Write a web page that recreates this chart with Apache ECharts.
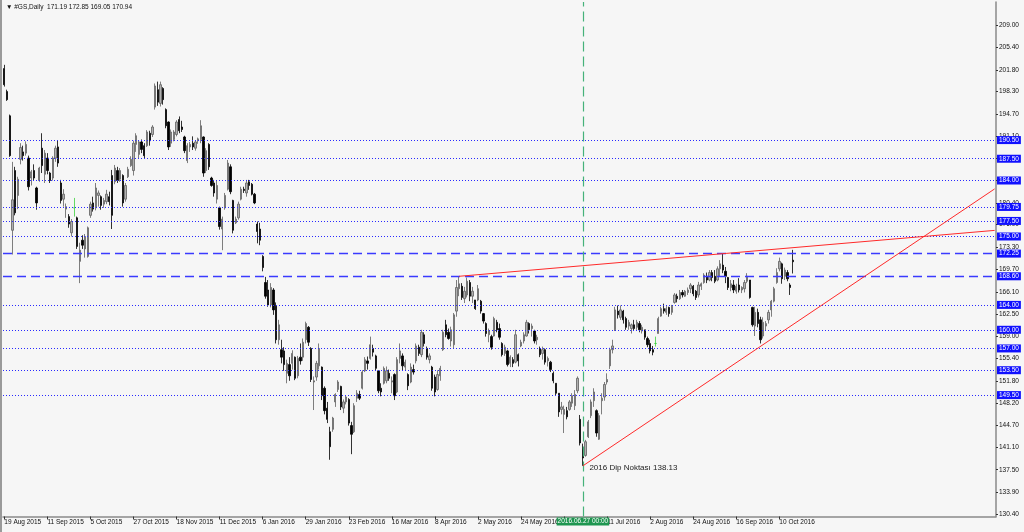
<!DOCTYPE html>
<html>
<head>
<meta charset="utf-8">
<script src="https://cdn.jsdelivr.net/npm/echarts@6/dist/echarts.min.js"></script>
<style>
html,body{margin:0;padding:0;background:#f6f6f6;}
#c{width:1024px;height:532px;}
</style>
</head>
<body>
<div id="c"></div>
<script>
// ---------------- data ----------------
const firstDay = '2015-08-19';
const lastDay = '2016-10-17';
const holidays = ['2015-09-07','2015-11-26','2015-12-25','2016-01-01','2016-01-18','2016-02-15','2016-03-25','2016-05-30','2016-07-04','2016-09-05'];

// daily bars: [open, high, low, close]
const ohlc = [
[202.0,202.6,199.1,199.4],[198.3,198.6,196.8,197.0],[194.4,194.6,187.8,188.0],[176.0,187.0,172.1,180.9],[185.6,186.2,178.4,178.8],[181.6,184.6,179.4,184.2],[187.4,190.0,186.6,189.3],[188.6,189.6,187.2,188.0],[188.4,190.3,188.0,189.8],[187.6,188.0,182.4,183.0],
[184.4,185.7,183.2,185.4],[185.6,186.6,184.0,184.4],[182.8,183.0,179.3,180.4],[184.0,186.2,183.8,186.0],[189.2,191.6,185.2,186.4],[185.0,188.9,183.6,188.4],[187.6,188.4,185.0,185.6],[185.2,185.4,183.6,184.0],[184.4,187.9,184.0,187.6],[187.6,189.6,187.0,189.2],
[189.4,190.5,186.2,186.8],[183.6,184.1,180.3,180.8],[181.0,182.6,179.8,181.8],[179.4,180.3,178.0,179.8],[178.2,178.6,176.4,177.0],[175.6,177.8,175.0,177.4],[179.6,181.2,178.2,179.6],[178.0,178.2,173.0,173.4],[171.0,174.0,167.5,172.8],[174.4,175.2,173.0,173.6],
[173.0,175.4,171.6,175.0],[171.8,176.6,171.6,176.4],[178.4,180.6,178.0,180.2],[180.4,181.4,179.0,179.4],[179.6,183.6,179.2,182.8],[181.6,182.4,179.8,182.0],[181.4,181.6,179.3,180.0],[180.2,181.2,179.6,180.8],[180.6,182.5,180.2,181.8],[181.4,182.2,180.0,180.6],
[184.8,185.7,176.2,178.4],[183.8,186.5,183.4,186.0],[185.6,186.2,183.6,184.0],[184.2,186.0,183.8,185.6],[184.8,185.0,179.8,180.4],[181.0,183.6,180.6,183.2],[184.6,186.2,184.4,185.8],[186.4,187.9,186.2,187.4],[185.6,190.4,184.8,190.0],[189.8,191.6,188.6,191.2],
[188.2,190.5,187.6,190.2],[190.2,190.6,188.4,189.0],[189.6,190.0,187.6,188.0],[189.6,192.1,189.4,191.8],[191.6,192.0,189.6,190.4],[191.4,192.9,191.0,192.6],[195.8,199.6,195.4,199.2],[198.6,199.9,196.0,196.6],[196.4,199.9,195.9,199.4],[198.8,199.0,196.2,197.0],
[195.4,195.6,192.4,192.8],[193.4,193.5,188.9,189.4],[190.0,192.2,189.4,191.8],[190.6,192.1,190.3,191.8],[191.4,193.7,191.1,193.4],[193.8,194.3,191.6,192.0],[192.6,193.6,191.8,192.2],[191.0,191.2,188.4,188.8],[187.2,190.0,186.8,189.6],[189.4,190.2,188.6,189.8],
[190.0,191.1,188.9,189.4],[189.2,190.4,188.8,190.2],[190.4,190.9,189.9,190.7],[190.6,193.7,190.0,192.8],[191.0,191.1,184.6,185.2],[185.6,189.2,185.2,188.8],[189.8,190.0,185.7,186.2],[184.4,184.6,183.0,183.2],[183.6,184.1,181.4,182.0],[181.0,184.0,180.3,183.2],
[179.6,179.8,176.1,176.6],[176.2,178.2,172.8,177.8],[179.6,182.0,179.3,181.6],[182.6,187.3,182.4,186.8],[186.2,186.6,181.8,182.2],[180.8,180.9,175.5,176.0],[177.2,178.2,177.0,177.8],[178.0,180.6,177.7,180.2],[181.0,183.0,180.8,182.6],[182.6,183.0,182.0,182.4],
[182.0,184.1,181.4,183.6],[183.8,184.1,182.5,183.2],[183.4,183.6,181.6,181.8],[181.8,182.0,180.2,180.4],[177.0,177.4,173.9,175.8],[176.2,177.2,173.6,174.4],[171.8,172.0,169.4,170.0],[167.6,168.5,165.0,165.4],[166.4,168.0,163.7,164.0],[164.0,167.5,163.6,166.8],
[166.4,166.7,162.4,163.2],[163.8,164.4,157.8,158.4],[158.4,161.6,157.6,160.8],[156.8,158.4,154.6,155.6],[156.6,157.2,153.4,154.4],[153.0,155.2,151.4,154.6],[154.4,155.6,151.8,152.6],[154.6,156.7,153.6,156.2],[155.6,155.7,151.9,152.2],[152.6,155.8,152.2,155.4],
[155.6,157.8,154.4,155.0],[155.6,158.6,155.0,158.0],[158.4,161.3,157.8,161.0],[160.4,160.6,157.4,158.0],[157.0,157.2,151.6,152.0],[151.6,152.5,147.1,151.8],[152.4,155.0,151.8,154.6],[154.2,157.8,153.6,157.0],[154.0,154.1,148.7,149.4],[150.6,150.9,146.4,147.0],
[147.4,148.4,145.0,145.6],[143.6,144.4,139.1,141.2],[144.0,146.0,143.6,145.8],[148.4,149.8,147.6,149.6],[150.4,151.9,150.0,151.6],[150.9,151.0,147.1,147.6],[147.4,148.8,146.6,148.4],[148.4,149.4,148.0,149.2],[148.8,149.0,144.6,145.0],[144.6,145.2,140.0,143.2],
[143.6,148.2,143.4,147.8],[149.0,150.3,148.4,149.8],[149.6,150.2,148.7,149.0],[150.6,153.5,150.4,153.2],[153.4,155.6,153.2,155.2],[155.0,155.7,153.6,154.6],[155.4,158.9,155.2,157.6],[157.0,157.6,155.7,156.4],[155.8,156.0,153.4,153.8],[153.4,153.5,149.8,150.2],
[150.6,151.4,149.3,150.0],[151.4,154.1,151.2,153.8],[151.8,154.1,151.4,153.4],[153.0,153.6,151.8,152.2],[151.6,152.5,149.8,151.8],[152.8,153.0,148.7,149.4],[150.0,155.6,149.8,155.2],[155.4,157.8,154.6,156.6],[155.8,156.2,153.5,154.2],[154.0,155.2,153.4,154.8],
[152.8,153.0,150.3,151.0],[151.6,154.6,151.4,154.0],[153.6,154.4,152.8,153.2],[155.0,157.8,154.6,157.4],[157.2,157.6,155.8,156.2],[156.0,160.0,155.6,159.6],[159.2,159.6,157.3,157.8],[157.0,157.3,155.2,155.6],[155.2,156.2,154.6,155.8],[154.0,154.2,150.2,150.6],
[152.4,152.8,149.3,150.0],[150.4,153.5,150.2,152.8],[152.6,154.2,151.8,153.8],[156.8,160.0,156.6,159.6],[160.8,161.6,158.8,159.2],[159.6,160.2,158.4,158.6],[158.2,160.5,157.3,160.0],[157.6,162.7,157.0,162.4],[163.0,168.0,162.1,166.8],[166.6,168.6,165.4,167.4],
[167.0,167.5,164.8,165.2],[165.0,166.9,164.3,166.2],[165.6,168.4,165.2,167.8],[167.6,168.0,164.6,165.4],[165.4,166.9,164.3,166.2],[164.8,164.8,163.2,163.4],[164.8,167.2,164.6,166.6],[164.6,164.8,162.6,163.0],[162.6,162.7,161.0,161.4],[161.0,161.2,158.9,159.4],
[159.2,160.2,158.0,159.8],[158.9,159.2,156.8,157.2],[159.0,162.1,158.9,161.8],[161.2,161.6,159.6,160.0],[160.2,161.0,158.4,158.8],[157.8,158.0,155.7,156.0],[156.2,157.6,155.8,157.2],[156.6,156.8,154.1,154.4],[154.6,155.9,154.0,155.6],[155.2,155.6,154.0,154.6],
[154.8,160.0,154.6,159.2],[156.0,156.2,154.1,155.0],[157.4,158.4,157.2,158.0],[158.2,159.6,157.8,159.2],[159.0,161.6,158.9,161.2],[161.0,161.2,159.4,160.0],[160.2,161.0,158.9,160.6],[159.8,160.0,157.8,158.2],[158.4,159.2,157.6,158.8],[157.0,157.3,155.6,156.0],
[156.2,157.3,155.2,156.8],[156.8,157.0,154.4,154.8],[155.0,155.7,154.1,155.4],[154.8,155.0,153.2,153.6],[153.0,153.3,151.4,151.8],[151.4,151.4,149.5,149.8],[149.8,149.8,146.0,146.8],[147.2,148.4,146.4,147.6],[146.4,147.8,143.4,147.2],[147.0,147.6,145.6,146.0],
[147.2,148.7,147.0,148.4],[148.2,149.8,147.6,149.4],[147.8,150.3,147.1,149.6],[150.2,152.5,149.8,152.2],[145.6,146.3,141.4,141.8],[140.8,141.7,138.13,139.4],[139.8,142.3,139.6,142.0],[142.8,145.5,142.6,145.2],[146.2,148.8,145.8,148.4],[148.6,150.6,147.6,150.0],
[147.0,147.2,142.8,143.4],[142.4,146.6,142.3,146.2],[148.6,149.8,146.4,149.0],[149.2,151.6,148.6,151.2],[151.6,153.0,151.2,152.0],[154.2,157.1,153.7,156.8],[156.8,158.4,156.2,157.4],[160.0,163.7,159.8,163.2],[163.0,163.9,161.8,162.4],[162.0,163.9,161.6,163.2],
[163.0,163.2,161.0,161.6],[161.8,162.1,160.0,160.4],[160.6,161.6,160.0,161.2],[160.2,161.0,159.4,160.8],[160.8,161.6,159.8,160.2],[160.4,161.6,160.0,161.2],[161.0,161.4,159.6,160.0],[159.8,160.8,159.4,160.4],[160.0,160.0,158.4,158.8],[158.6,158.9,157.2,157.6],
[157.8,158.4,156.2,156.6],[156.8,157.4,155.9,156.4],[157.8,158.9,157.3,157.8],[159.4,162.1,159.4,161.8],[162.2,163.7,162.1,163.4],[163.4,164.2,162.6,163.0],[162.8,163.8,162.4,163.4],[163.6,163.7,162.1,162.6],[162.8,164.0,162.4,163.8],[164.4,165.9,164.2,165.6],
[165.4,165.8,164.4,165.0],[165.0,166.4,164.8,166.0],[166.0,166.4,165.2,165.6],[165.4,166.4,165.3,166.2],[166.0,166.8,165.6,166.4],[166.6,167.5,165.9,167.2],[167.0,167.2,165.4,165.8],[166.2,166.4,164.8,165.2],[165.6,167.7,165.2,167.2],[167.0,167.6,166.4,167.4],
[167.6,169.1,167.4,168.8],[168.6,169.2,167.5,168.0],[168.0,169.6,167.8,169.2],[169.2,169.6,167.8,168.4],[168.6,169.6,167.5,167.8],[168.0,170.2,167.8,169.8],[169.8,171.2,168.5,170.6],[170.4,172.3,169.1,169.6],[169.4,170.1,167.5,168.6],[168.4,168.5,166.4,166.8],
[166.8,168.0,166.2,167.4],[167.2,168.0,165.9,166.4],[166.2,167.4,165.8,167.0],[167.2,168.3,166.0,166.4],[166.4,167.0,165.9,166.8],[166.6,168.0,166.0,167.6],[167.8,169.1,167.5,168.6],[168.0,168.0,165.0,165.2],[163.6,163.7,160.5,160.8],[160.6,163.7,159.0,162.8],
[162.8,163.4,160.4,161.0],[161.6,162.1,157.8,158.4],[159.0,162.0,158.6,161.2],[160.6,161.4,159.8,161.0],[161.6,163.2,161.0,162.8],[163.2,164.8,162.1,164.6],[164.6,166.9,164.4,166.6],[167.6,169.9,167.4,169.2],[169.8,171.6,169.4,171.0],[170.6,170.8,167.4,168.2],
[168.6,170.0,168.0,169.6],[169.2,169.6,167.8,168.2],[167.2,167.5,165.6,166.8],[171.19,172.85,169.05,170.94]
];

// bars drawn in the "doji" colour
const greenBars = ['2015-09-25','2016-08-04'];

// right price scale labels
const yTicks = [209.00,205.40,201.80,198.30,194.70,191.10,187.60,184.00,180.40,176.90,173.30,169.70,166.10,162.50,159.00,155.40,151.80,148.20,144.70,141.10,137.50,133.90,130.40];

// horizontal levels
const dottedLevels = [190.50,187.50,184.00,179.75,177.50,175.00,164.00,160.00,157.00,153.50,149.50];
const dashedLevels = [172.25,168.60];
const lastPrice = 170.94;

// vertical marker and dip note
const markDate = '2016-06-27';
const markDateText = '2016.06.27 00:00';
const dipValue = 138.13;
const dipText = '2016 Dip Noktası 138.13';

// trend lines: [barIndex, price] anchor pairs
const trendUpper = [[169, 168.60], [368, 175.98]];
const trendLower = [[215, 138.13], [368, 182.65]];

const headerText = '\u25BC #GS,Daily  171.19 172.85 169.05 170.94';

// ---------------- build ----------------
function tradingDays(a, b) {
  const out = [];
  const DAY = 86400000;
  const t0 = Date.parse(a + 'T00:00:00Z'), t1 = Date.parse(b + 'T00:00:00Z');
  for (let t = t0; t <= t1; t += DAY) {
    const d = new Date(t);
    const wd = d.getUTCDay();
    if (wd === 0 || wd === 6) continue;
    const s = d.toISOString().slice(0, 10);
    if (holidays.indexOf(s) >= 0) continue;
    out.push(s);
  }
  return out;
}
const dates = tradingDays(firstDay, lastDay);
const SLOTS = 369;
const categories = dates.slice();
for (let k = categories.length; k < SLOTS; k++) categories.push('f' + k);

const MON = ['Jan','Feb','Mar','Apr','May','Jun','Jul','Aug','Sep','Oct','Nov','Dec'];
function fmtDate(s) {
  if (s.length !== 10) return '';
  return (+s.slice(8)) + ' ' + MON[+s.slice(5, 7) - 1] + ' ' + s.slice(0, 4);
}
const nBars = Math.min(dates.length, ohlc.length);
function showTick(i) { return i % 16 === 0 && i < nBars - 4; }

const GREEN = '#3fd23f';
const candleData = ohlc.map((r, i) => {
  const item = { value: [r[0], r[3], r[2], r[1]] };
  if (greenBars.indexOf(dates[i]) >= 0) {
    item.itemStyle = { color: GREEN, color0: GREEN, borderColor: GREEN, borderColor0: GREEN };
  }
  return item;
});

const FONT = '"Liberation Sans", Arial, sans-serif';
function boxLabel(bg) {
  return {
    show: true, position: 'end', distance: 1,
    formatter: p => Number(p.value).toFixed(2),
    backgroundColor: bg, color: '#ffffff',
    fontFamily: FONT, fontSize: 6.5, lineHeight: 8,
    padding: [0, 2, 0, 2]
  };
}

const levelData = [];
dottedLevels.forEach(v => levelData.push({
  yAxis: v,
  lineStyle: { color: '#2a2aff', type: [1, 2], width: 1 },
  label: boxLabel('#1010ff')
}));
dashedLevels.forEach(v => levelData.push({
  yAxis: v,
  lineStyle: { color: '#3a3aff', type: [9, 5], width: 1.3 },
  label: boxLabel('#1010ff')
}));
levelData.push({
  yAxis: lastPrice,
  lineStyle: { opacity: 0, width: 0 },
  label: boxLabel('#000000')
});

const trendData = [trendUpper, trendLower].map(t => [
  { coord: t[0] },
  { coord: t[1] }
]);

const MARK_GREEN = '#45b27a';
const option = {
  animation: false,
  backgroundColor: '#f6f6f6',
  grid: { left: 3, top: 2, width: 993, height: 514.5, containLabel: false, outerBoundsMode: 'none', show: false },
  xAxis: {
    type: 'category',
    data: categories,
    boundaryGap: true,
    axisLine: { show: true, lineStyle: { color: '#8a8a8a', width: 1.5 } },
    axisTick: { show: true, alignWithLabel: true, length: 3, interval: (i) => showTick(i), lineStyle: { color: '#333' } },
    axisLabel: {
      show: true, interval: (i) => showTick(i),
      formatter: v => fmtDate(v),
      align: 'left', margin: 2,
      fontFamily: FONT, fontSize: 6.5, color: '#111'
    },
    splitLine: { show: false }
  },
  yAxis: {
    type: 'value',
    position: 'right',
    min: 129.98, max: 212.70,
    axisLine: { show: true, lineStyle: { color: '#8a8a8a', width: 1.5 } },
    axisTick: { show: true, length: 2, customValues: yTicks, lineStyle: { color: '#333' } },
    axisLabel: {
      show: true, customValues: yTicks, margin: 3,
      formatter: v => Number(v).toFixed(2),
      fontFamily: FONT, fontSize: 6.5, color: '#111'
    },
    splitLine: { show: false }
  },
  series: [
    {
      name: 'levels', type: 'line', data: [], silent: true,
      markLine: { silent: true, animation: false, symbol: ['none', 'none'], data: levelData }
    },
    {
      name: 'marker', type: 'line', data: [], silent: true,
      color: MARK_GREEN,
      lineStyle: { color: MARK_GREEN },
      markLine: {
        silent: true, animation: false, symbol: ['none', 'none'],
        lineStyle: { color: MARK_GREEN, type: [10, 5], width: 1.2, opacity: 1 },
        emphasis: { disabled: true },
        label: {
          show: true, position: 'start', distance: 1,
          formatter: markDateText,
          backgroundColor: '#1e9650', color: '#ffffff',
          fontFamily: FONT, fontSize: 6.5, lineHeight: 8, padding: [0, 1, 0, 1]
        },
        data: [{ xAxis: markDate, lineStyle: { color: MARK_GREEN, type: [10, 5], width: 1.2 } }]
      }
    },
    {
      name: 'trend', type: 'line', data: [], silent: true,
      markLine: {
        silent: true, animation: false, symbol: ['none', 'none'],
        lineStyle: { color: '#ff2a2a', type: 'solid', width: 1 },
        label: { show: false },
        data: trendData
      }
    },
    {
      name: 'GS', type: 'candlestick',
      data: candleData,
      barWidth: 1.8,
      large: false,
      z: 3,
      itemStyle: {
        color: '#b0b0b0', borderColor: '#606060',
        color0: '#000000', borderColor0: '#000000',
        borderWidth: 0.8
      },
      markPoint: {
        silent: true, animation: false,
        symbol: 'circle', symbolSize: 1,
        itemStyle: { color: 'rgba(0,0,0,0)' },
        data: [{
          coord: [markDate, dipValue],
          label: {
            show: true, position: 'right', distance: 6, offset: [0, 2],
            formatter: dipText, color: '#222', fontFamily: FONT, fontSize: 8
          }
        }]
      }
    }
  ],
  graphic: [
    { type: 'rect', left: 0, top: 0, shape: { width: 2, height: 532 }, style: { fill: '#9a9a9a' }, silent: true },
    { type: 'text', left: 6, top: 4, style: { text: headerText, font: '6.5px ' + FONT, fill: '#111' }, silent: true }
  ]
};

const chart = echarts.init(document.getElementById('c'));
chart.setOption(option);
</script>
</body>
</html>
